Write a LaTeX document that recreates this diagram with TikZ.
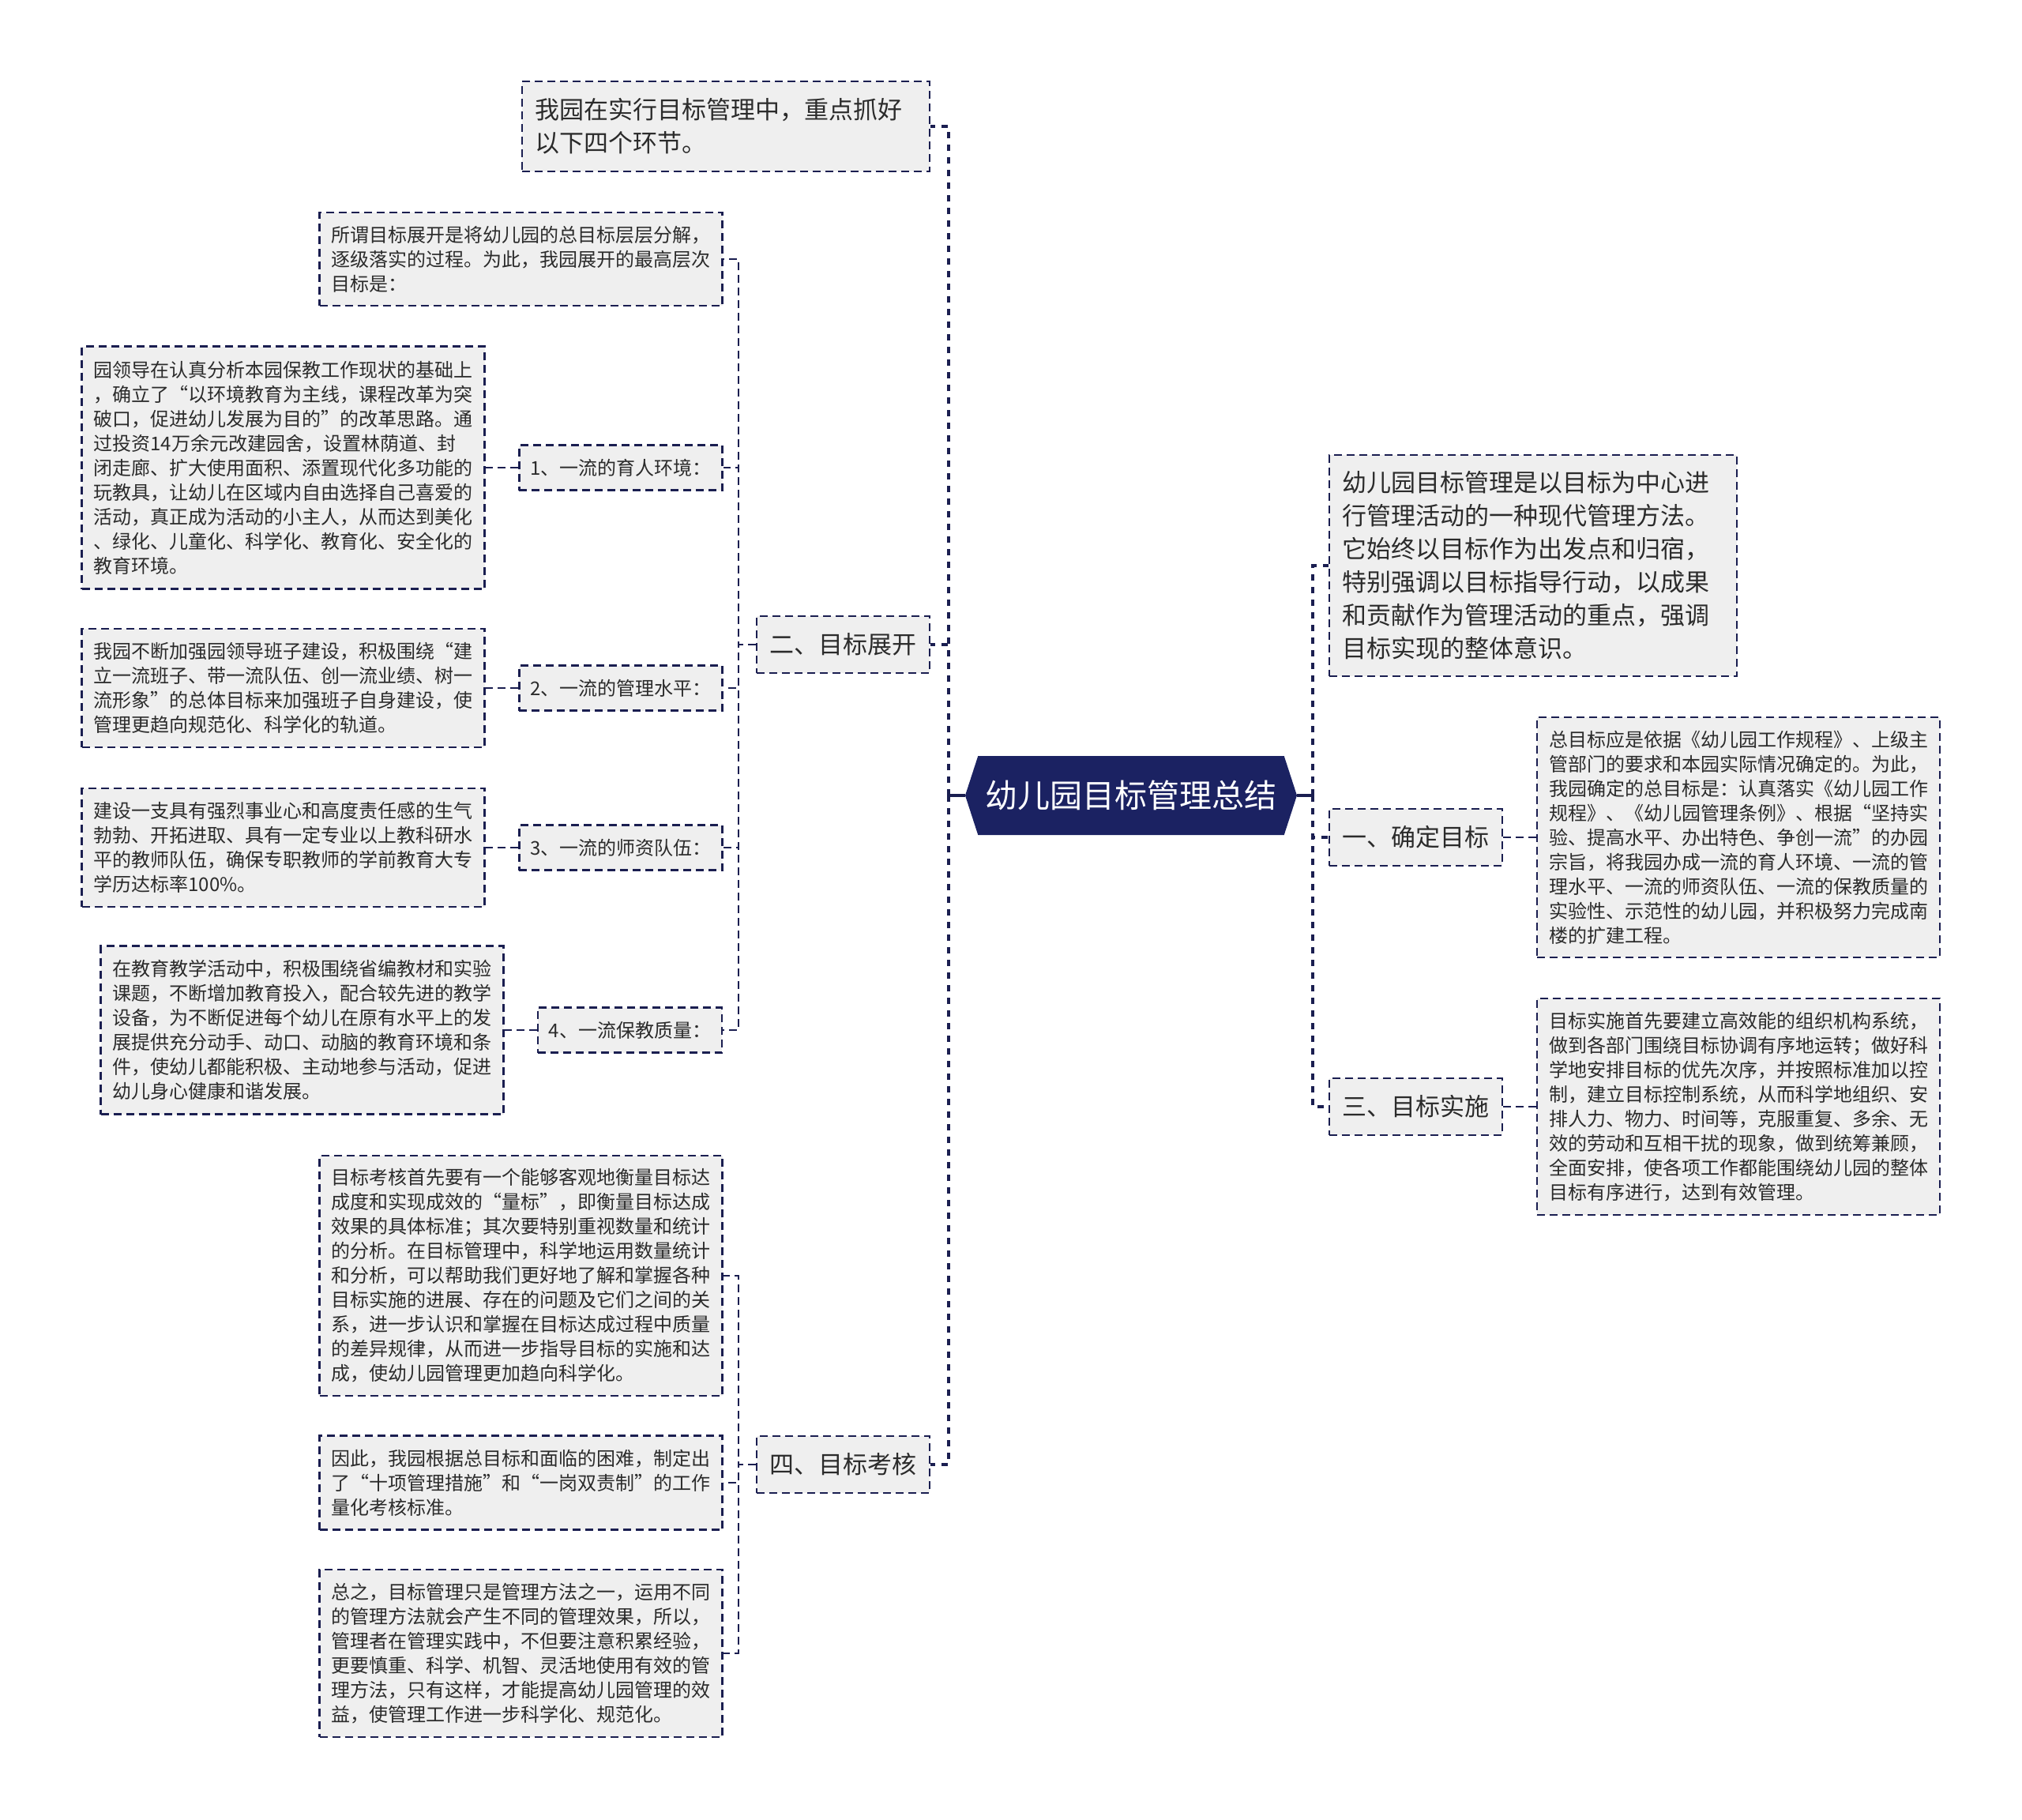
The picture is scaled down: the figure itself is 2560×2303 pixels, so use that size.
\documentclass[tikz,border=0pt]{standalone}
\usepackage{fontspec}
\setmainfont{Noto Sans CJK SC}
\usetikzlibrary{shapes.symbols}

\definecolor{navy}{HTML}{1B2262}
\definecolor{lineblue}{HTML}{1A1E50}
\definecolor{boxgray}{HTML}{EFEFEF}
\definecolor{ink}{HTML}{2B2B2B}

\tikzset{
  root/.style={signal, signal to=west and east, signal pointer angle=144,
    fill=navy, text=white, minimum width=210pt, minimum height=50pt,
    inner sep=0pt, font=\fontsize{20.5pt}{24pt}\selectfont},
  boxbase/.style={draw=lineblue, fill=boxgray, text=ink, line width=1.25pt,
    dash pattern=on 5pt off 3pt, align=left},
  topic/.style={boxbase, inner xsep=8.25pt, minimum height=36pt,
    font=\fontsize{15.5pt}{21pt}\selectfont},
  note/.style={boxbase, inner xsep=8pt, text width=242pt,
    font=\fontsize{15.5pt}{21pt}\selectfont},
  item/.style={boxbase, inner xsep=7pt, minimum height=28.5pt,
    font=\fontsize{12pt}{15.5pt}\selectfont},
  detail/.style={boxbase, inner xsep=7.5pt, text width=240pt,
    font=\fontsize{12pt}{15.5pt}\selectfont},
  trunk/.style={draw=lineblue, line width=2pt},
  bus/.style={draw=lineblue, line width=2pt, dash pattern=on 4pt off 4pt},
  link/.style={draw=lineblue, line width=1.25pt, dash pattern=on 5pt off 3pt},
}

\begin{document}
\begin{tikzpicture}[x=0.5pt,y=-0.5pt]
        \useasboundingbox (0,0) rectangle (2560,2303);

        % === ROOT ===
        \node[root] (root) at (1432,1007) {幼儿园目标管理总结};

        % === LEFT: MAIN TOPICS ===
        \node[note, minimum height=57pt] (intro) at (919,160)
            {我园在实行目标管理中，重点抓好\\以下四个环节。};
        \node[topic] (expand) at (1067.5,816) {二、目标展开};
        \node[topic] (assess) at (1067.5,1854) {四、目标考核};

        % === TARGET EXPANSION ===
        \node[detail, minimum height=59pt] (aim) at (659.5,328)
            {所谓目标展开是将幼儿园的总目标层层分解，\\逐级落实的过程。为此，我园展开的最高层次\\目标是：};

        \node[item] (env) at (786,592) {1、一流的育人环境：};
        \node[detail, minimum height=153.5pt] (envtxt) at (358.5,592)
            {园领导在认真分析本园保教工作现状的基础上\\，确立了“以环境教育为主线，课程改革为突\\破口，促进幼儿发展为目的”的改革思路。通\\过投资14万余元改建园舍，设置林荫道、封\\闭走廊、扩大使用面积、添置现代化多功能的\\玩教具，让幼儿在区域内自由选择自己喜爱的\\活动，真正成为活动的小主人，从而达到美化\\、绿化、儿童化、科学化、教育化、安全化的\\教育环境。};

        \node[item] (mgmt) at (786,871) {2、一流的管理水平：};
        \node[detail, minimum height=75pt] (mgmttxt) at (358.5,871)
            {我园不断加强园领导班子建设，积极围绕“建\\立一流班子、带一流队伍、创一流业绩、树一\\流形象”的总体目标来加强班子自身建设，使\\管理更趋向规范化、科学化的轨道。};

        \node[item] (staff) at (786,1073) {3、一流的师资队伍：};
        \node[detail, minimum height=75pt] (stafftxt) at (358.5,1073)
            {建设一支具有强烈事业心和高度责任感的生气\\勃勃、开拓进取、具有一定专业以上教科研水\\平的教师队伍，确保专职教师的学前教育大专\\学历达标率100\%。};

        \node[item] (care) at (797.5,1304) {4、一流保教质量：};
        \node[detail, minimum height=106.5pt] (caretxt) at (382.5,1304)
            {在教育教学活动中，积极围绕省编教材和实验\\课题，不断增加教育投入，配合较先进的教学\\设备，为不断促进每个幼儿在原有水平上的发\\展提供充分动手、动口、动脑的教育环境和条\\件，使幼儿都能积极、主动地参与活动，促进\\幼儿身心健康和谐发展。};

        % === TARGET ASSESSMENT ===
        \node[detail, minimum height=152pt] (measure) at (659.5,1615)
            {目标考核首先要有一个能够客观地衡量目标达\\成度和实现成效的“量标”，即衡量目标达成\\效果的具体标准；其次要特别重视数量和统计\\的分析。在目标管理中，科学地运用数量统计\\和分析，可以帮助我们更好地了解和掌握各种\\目标实施的进展、存在的问题及它们之间的关\\系，进一步认识和掌握在目标达成过程中质量\\的差异规律，从而进一步指导目标的实施和达\\成，使幼儿园管理更加趋向科学化。};
        \node[detail, minimum height=59.5pt] (rules) at (659.5,1877)
            {因此，我园根据总目标和面临的困难，制定出\\了“十项管理措施”和“一岗双责制”的工作\\量化考核标准。};
        \node[detail, minimum height=106pt] (summary) at (659.5,2093)
            {总之，目标管理只是管理方法之一，运用不同\\的管理方法就会产生不同的管理效果，所以，\\管理者在管理实践中，不但要注意积累经验，\\更要慎重、科学、机智、灵活地使用有效的管\\理方法，只有这样，才能提高幼儿园管理的效\\益，使管理工作进一步科学化、规范化。};

        % === RIGHT: MAIN TOPICS ===
        \node[note, minimum height=140pt] (define) at (1941,716)
            {幼儿园目标管理是以目标为中心进\\行管理活动的一种现代管理方法。\\它始终以目标作为出发点和归宿，\\特别强调以目标指导行动，以成果\\和贡献作为管理活动的重点，强调\\目标实现的整体意识。};
        \node[topic] (settle) at (1792.5,1060) {一、确定目标};
        \node[topic] (carry) at (1792.5,1401) {三、目标实施};

        \node[detail, minimum height=152pt] (settletxt) at (2201,1060)
            {总目标应是依据《幼儿园工作规程》、上级主\\管部门的要求和本园实际情况确定的。为此，\\我园确定的总目标是：认真落实《幼儿园工作\\规程》、《幼儿园管理条例》、根据“坚持实\\验、提高水平、办出特色、争创一流”的办园\\宗旨，将我园办成一流的育人环境、一流的管\\理水平、一流的师资队伍、一流的保教质量的\\实验性、示范性的幼儿园，并积极努力完成南\\楼的扩建工程。};
        \node[detail, minimum height=137pt] (carrytxt) at (2201,1401)
            {目标实施首先要建立高效能的组织机构系统，\\做到各部门围绕目标协调有序地运转；做好科\\学地安排目标的优先次序，并按照标准加以控\\制，建立目标控制系统，从而科学地组织、安\\排人力、物力、时间等，克服重复、多余、无\\效的劳动和互相干扰的现象，做到统筹兼顾，\\全面安排，使各项工作都能围绕幼儿园的整体\\目标有序进行，达到有效管理。};

        % === CONNECTORS ===
        \draw[trunk] (root.west) -- ++(-21,0) coordinate (lbus);
        \draw[trunk] (root.east) -- ++(20,0) coordinate (rbus);
        \foreach \n in {intro,expand,assess}
            \draw[bus] (lbus) |- (\n.east);
        \foreach \n in {define,settle,carry}
            \draw[bus] (rbus) |- (\n.west);

        \foreach \n in {aim,env,mgmt,staff,care}
            \draw[link] (expand.west) -- ++(-22,0) |- (\n.east);
        \foreach \n in {measure,rules,summary}
            \draw[link] (assess.west) -- ++(-22,0) |- (\n.east);

        \foreach \n in {env,mgmt,staff,care}
            \draw[link] (\n.west) -- (\n txt.east);
        \foreach \n in {settle,carry}
            \draw[link] (\n.east) -- (\n txt.west);

    \end{tikzpicture}
\end{document}
